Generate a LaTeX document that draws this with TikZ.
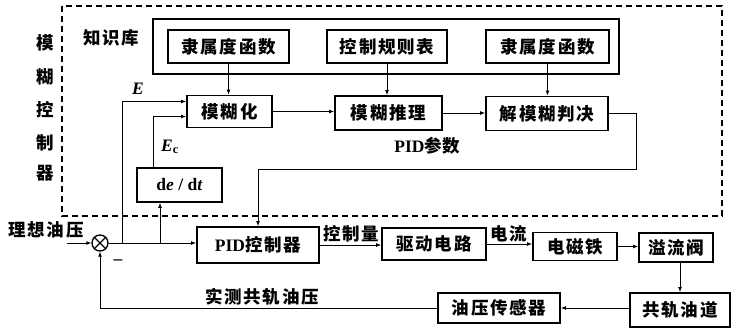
\documentclass[tikz,border=0pt]{standalone}
\usepackage{fontspec}
\setmainfont{Liberation Serif}
\newfontfamily\cjk{Noto Sans CJK SC}
\usetikzlibrary{arrows.meta}
\newcommand{\zh}[1]{{\cjk\bfseries\addfontfeatures{LetterSpace=10}#1}}
\newcommand{\zhv}[1]{{\cjk\bfseries #1}}
\tikzset{
  blk/.style={draw, line width=1.8pt, inner sep=0pt, font=\fontsize{17.5}{19}\selectfont},
  kbbox/.style={draw, line width=1.1pt, inner sep=0pt},
  conn/.style={line width=0.9pt, -{Latex[length=5pt,width=4pt]}},
  lbl/.style={inner sep=0pt, font=\fontsize{17.5}{19}\selectfont},
  sumc/.style={draw, circle, line width=1.3pt, minimum size=16pt, inner sep=0pt}
}
\begin{document}
\begin{tikzpicture}[x=1pt,y=-1pt]
\useasboundingbox (0,0) rectangle (733,334);
% controller frame
\draw[line width=1.2pt, dash pattern=on 6pt off 4pt] (62,6) rectangle (722,216);
% knowledge base
\node[kbbox, minimum width=466pt, minimum height=55pt] (kb) at (386,46.5) {};
\node[lbl] (kbl) at (111,38) {\zh{知识库}};
\node[blk, minimum width=121pt, minimum height=33pt] (mf1) at (228.5,46.5) {\zh{隶属度函数}};
\node[blk, minimum width=120pt, minimum height=33pt] (rule) at (387,46.5) {\zh{控制规则表}};
\node[blk, minimum width=123pt, minimum height=33pt] (mf2) at (547.5,46.5) {\zh{隶属度函数}};
% fuzzy chain
\node[blk, minimum width=85pt, minimum height=32pt] (fuzz) at (229.5,111.5) {\zh{模糊化}};
\node[blk, minimum width=107pt, minimum height=34pt] (infer) at (388.5,113) {\zh{模糊推理}};
\node[blk, minimum width=122pt, minimum height=34pt] (defuzz) at (547,113.5) {\zh{解模糊判决}};
\node[blk, minimum width=85pt, minimum height=34pt] (dedt) at (179.5,185) {\bfseries d\textit{e} / d\textit{t}};
% vertical label
\node[lbl] (v1) at (45,43) {\zhv{模}};
\node[lbl] (v2) at (45,77) {\zhv{糊}};
\node[lbl] (v3) at (45,110) {\zhv{控}};
\node[lbl] (v4) at (45,143) {\zhv{制}};
\node[lbl] (v5) at (45,173) {\zhv{器}};
% plant chain
\node[sumc] (sum) at (100,243) {};
\draw[line width=1.1pt] (sum.north west) -- (sum.south east) (sum.north east) -- (sum.south west);
\node[blk, minimum width=122pt, minimum height=36pt] (pid) at (258,245) {\bfseries PID\zh{控制器}};
\node[blk, minimum width=104pt, minimum height=32pt] (drive) at (434,244) {\zh{驱动电路}};
\node[blk, minimum width=84pt, minimum height=28pt] (magnet) at (575,246.5) {\zh{电磁铁}};
\node[blk, minimum width=74pt, minimum height=29pt] (valve) at (676,247.5) {\zh{溢流阀}};
\node[blk, minimum width=100pt, minimum height=34pt] (rail) at (680,310) {\zh{共轨油道}};
\node[blk, minimum width=122pt, minimum height=30pt] (sensor) at (499,308) {\zh{油压传感器}};
% labels
\node[lbl] (lE) at (138,89) {\bfseries\itshape E};
\node[lbl] (lEc) at (170,147) {\bfseries\itshape E\textsubscript{\upshape c}};
\node[lbl] (lpid) at (427,146) {\bfseries PID\zhv{参数}};
\node[lbl] (lu) at (351,234) {\zh{控制量}};
\node[lbl] (li) at (509,234) {\zh{电流}};
\node[lbl] (lfb) at (262,297) {\zh{实测共轨油压}};
\node[lbl] (lin) at (46,230) {\zh{理想油压}};
\node[lbl] (lminus) at (118,262) {\bfseries\textendash};
% connectors in knowledge base
\draw[conn] (mf1.south) -- (mf1.south |- fuzz.north);
\draw[conn] (rule.south) -- (rule.south |- infer.north);
\draw[conn] (mf2.south) -- (mf2.south |- defuzz.north);
\draw[conn] (fuzz.east) -- (fuzz.east -| infer.west);
\draw[conn] (infer.east) -- (infer.east -| defuzz.west);
% PID parameter feedback
\coordinate (pp) at (636,169);
\draw[conn] (defuzz.east) -| (pp) -| (pid.north);
% error paths
\coordinate (in) at (67,243);
\coordinate (eb) at (122,243);
\coordinate (db) at (160,243);
\draw[conn] (in) -- (sum.west);
\draw[conn] (sum.east) -- (sum.east -| pid.west);
\draw[conn] (eb) |- ([yshift=10pt]fuzz.west);
\draw[conn] ([xshift=-26.5pt]dedt.north) |- ([yshift=-5pt]fuzz.west);
\draw[conn] (db) -- (db |- dedt.south);
% forward path
\draw[conn] (pid.east) -- (pid.east -| drive.west);
\draw[conn] (drive.east) -- (drive.east -| magnet.west);
\draw[conn] (magnet.east) -- (magnet.east -| valve.west);
\draw[conn] (valve.south -| rail.north) -- (rail.north);
\draw[conn] (rail.west |- sensor.east) -- (sensor.east);
\draw[conn] (sensor.west) -| (sum.south);
\end{tikzpicture}
\end{document}
